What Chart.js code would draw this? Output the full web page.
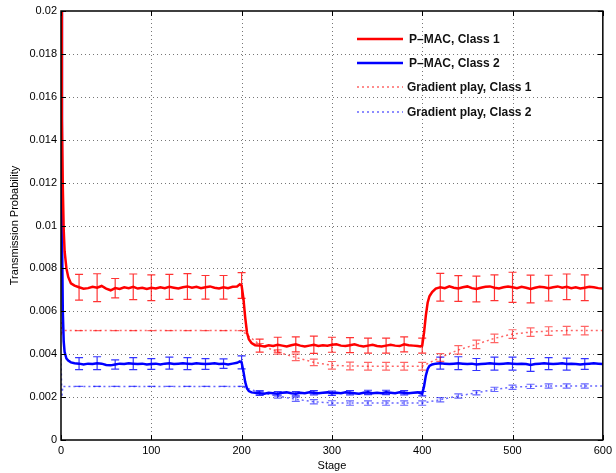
<!DOCTYPE html>
<html>
<head>
<meta charset="utf-8">
<script src="https://cdn.jsdelivr.net/npm/chart.js@4.4.1/dist/chart.umd.min.js"></script>
<style>
  html, body { margin: 0; padding: 0; background: #fff; }
  canvas { display: block; }
</style>
</head>
<body>
<canvas id="canvas" width="616" height="473"></canvas>
<script>
// stages for the P-MAC curves
var pmacStages = [0, 1, 2, 3, 4, 6, 8, 11, 15,
	20, 25, 30, 35, 40, 45, 50, 55, 60, 65, 70, 75, 80, 85, 90, 95, 100, 105, 110, 115, 120, 125, 130, 135, 140, 145, 150, 155, 160, 165, 170, 175, 180, 185, 190, 195,
	198, 200, 202, 204, 206, 208, 211, 215,
	220, 225, 230, 235, 240, 245, 250, 255, 260, 265, 270, 275, 280, 285, 290, 295, 300, 305, 310, 315, 320, 325, 330, 335, 340, 345, 350, 355, 360, 365, 370, 375, 380, 385, 390, 395,
	398, 400, 402, 404, 406, 408, 411, 415,
	420, 425, 430, 435, 440, 445, 450, 455, 460, 465, 470, 475, 480, 485, 490, 495, 500, 505, 510, 515, 520, 525, 530, 535, 540, 545, 550, 555, 560, 565, 570, 575, 580, 585, 590, 595, 600];

var pmacClass1 = [0.0200, 0.0150, 0.0118, 0.0098, 0.0088, 0.0080, 0.0076, 0.0073, 0.0072,
	0.00712, 0.00705, 0.00708, 0.00714, 0.00710, 0.00718, 0.00706, 0.00698, 0.00708, 0.00704, 0.00712, 0.00708, 0.00714, 0.00706, 0.00710, 0.00704, 0.00710, 0.00706, 0.00712, 0.00708, 0.00714, 0.00710, 0.00706, 0.00712, 0.00716, 0.00710, 0.00714, 0.00708, 0.00712, 0.00716, 0.00710, 0.00706, 0.00712, 0.00708, 0.00714, 0.00716,
	0.00726, 0.00720, 0.0066, 0.0057, 0.0050, 0.0047, 0.00452, 0.00442,
	0.00440, 0.00436, 0.00442, 0.00438, 0.00444, 0.00440, 0.00436, 0.00442, 0.00446, 0.00440, 0.00436, 0.00440, 0.00444, 0.00438, 0.00442, 0.00440, 0.00444, 0.00446, 0.00440, 0.00438, 0.00442, 0.00446, 0.00440, 0.00436, 0.00440, 0.00444, 0.00438, 0.00436, 0.00440, 0.00444, 0.00440, 0.00438, 0.00446, 0.00442, 0.00440, 0.00438,
	0.00436, 0.00440, 0.0050, 0.0058, 0.0064, 0.0067, 0.00690, 0.00706,
	0.00712, 0.00708, 0.00716, 0.00710, 0.00706, 0.00712, 0.00716, 0.00708, 0.00704, 0.00710, 0.00714, 0.00716, 0.00710, 0.00706, 0.00712, 0.00716, 0.00712, 0.00708, 0.00714, 0.00710, 0.00704, 0.00710, 0.00714, 0.00712, 0.00708, 0.00712, 0.00716, 0.00710, 0.00714, 0.00708, 0.00712, 0.00706, 0.00710, 0.00714, 0.00712, 0.00708, 0.00706];

var pmacClass2 = [0.0200, 0.0100, 0.0060, 0.0046, 0.0041, 0.0038, 0.0037, 0.00362, 0.00358,
	0.00356, 0.00352, 0.00356, 0.00354, 0.00358, 0.00356, 0.00350, 0.00348, 0.00352, 0.00356, 0.00354, 0.00358, 0.00356, 0.00354, 0.00356, 0.00352, 0.00354, 0.00356, 0.00352, 0.00356, 0.00358, 0.00354, 0.00356, 0.00358, 0.00356, 0.00354, 0.00358, 0.00356, 0.00354, 0.00356, 0.00358, 0.00354, 0.00356, 0.00352, 0.00356, 0.00360,
	0.00366, 0.00362, 0.0032, 0.0027, 0.00240, 0.00228, 0.00222, 0.00220,
	0.00218, 0.00216, 0.00220, 0.00218, 0.00216, 0.00220, 0.00222, 0.00218, 0.00216, 0.00220, 0.00218, 0.00222, 0.00220, 0.00218, 0.00220, 0.00222, 0.00218, 0.00220, 0.00218, 0.00222, 0.00220, 0.00218, 0.00216, 0.00220, 0.00222, 0.00218, 0.00220, 0.00218, 0.00222, 0.00220, 0.00218, 0.00222, 0.00220, 0.00218, 0.00220, 0.00222,
	0.00218, 0.00216, 0.0025, 0.0030, 0.0033, 0.00345, 0.00352, 0.00356,
	0.00358, 0.00356, 0.00354, 0.00356, 0.00358, 0.00356, 0.00354, 0.00356, 0.00352, 0.00354, 0.00356, 0.00358, 0.00356, 0.00354, 0.00356, 0.00358, 0.00356, 0.00354, 0.00356, 0.00354, 0.00350, 0.00354, 0.00356, 0.00358, 0.00356, 0.00354, 0.00356, 0.00358, 0.00354, 0.00356, 0.00354, 0.00352, 0.00354, 0.00356, 0.00358, 0.00356, 0.00354];

// stages for the gradient play curves
var gpStages = [0, 1, 2, 20, 40, 60, 80, 100, 120, 140, 160, 180, 200, 220, 240, 260, 280, 300, 320, 340, 360, 380, 400, 420, 440, 460, 480, 500, 520, 540, 560, 580, 600];
var gpClass1 = [0.0055, 0.0050, 0.0051, 0.0051, 0.0051, 0.0051, 0.0051, 0.0051, 0.0051, 0.0051, 0.0051, 0.0051, 0.0051,
	0.00445, 0.0041, 0.00385, 0.00362, 0.00348, 0.00345, 0.00344, 0.00344, 0.00344, 0.00344,
	0.00385, 0.0042, 0.00446, 0.00474, 0.00494, 0.00503, 0.00508, 0.0051, 0.0051, 0.0051];
var gpClass2 = [0.0038, 0.0020, 0.0025, 0.0025, 0.0025, 0.0025, 0.0025, 0.0025, 0.0025, 0.0025, 0.0025, 0.0025, 0.0025,
	0.00222, 0.00205, 0.0019, 0.00178, 0.00173, 0.00172, 0.00172, 0.00172, 0.00172, 0.00172,
	0.00188, 0.00205, 0.0022, 0.00236, 0.00246, 0.0025, 0.00252, 0.00252, 0.00252, 0.00252];

// error bars (half widths) at stages 20..580
var errStages = [20, 40, 60, 80, 100, 120, 140, 160, 180, 200, 220, 240, 260, 280, 300, 320, 340, 360, 380, 400, 420, 440, 460, 480, 500, 520, 540, 560, 580];
var pmacClass1Err = [0.0006, 0.00065, 0.00045, 0.0006, 0.0006, 0.00058, 0.0006, 0.00055, 0.00055, 0.0006,
	0.0003, 0.00035, 0.00035, 0.0004, 0.00035, 0.00035, 0.00035, 0.00035, 0.00035, 0.00035,
	0.00065, 0.0006, 0.0006, 0.0006, 0.0007, 0.00065, 0.0006, 0.0006, 0.0006];
var pmacClass2Err = [0.00028, 0.0003, 0.00022, 0.00028, 0.00025, 0.00028, 0.00028, 0.00025, 0.00022, 0.0003,
	0.0001, 0.0001, 0.0001, 0.0001, 0.0001, 0.0001, 0.0001, 0.0001, 0.0001, 0.0001,
	0.00028, 0.0003, 0.00028, 0.0003, 0.0003, 0.0003, 0.00028, 0.00028, 0.00025];
var gpClass1Err = [0, 0, 0, 0, 0, 0, 0, 0, 0, 0,
	0.00005, 0.0001, 0.00015, 0.00015, 0.00018, 0.00018, 0.00018, 0.00018, 0.00018, 0.00018,
	0.00018, 0.0002, 0.0002, 0.0002, 0.0002, 0.0002, 0.0002, 0.0002, 0.0002];
var gpClass2Err = [0, 0, 0, 0, 0, 0, 0, 0, 0, 0,
	0.00008, 0.0001, 0.0001, 0.0001, 0.0001, 0.0001, 0.0001, 0.0001, 0.0001, 0.0001,
	0.0001, 0.0001, 0.0001, 0.0001, 0.0001, 0.0001, 0.0001, 0.0001, 0.0001];

var seriesLabels = ['P\u2013MAC, Class 1', 'P\u2013MAC, Class 2', 'Gradient play, Class 1', 'Gradient play, Class 2'];

function pts(xs, ys) {
	return xs.map(function(s, i) { return {x: s, y: ys[i]}; });
}

var FONT = 'Liberation Sans, Arial, Helvetica, sans-serif';

var matlabLook = {
	id: 'matlabLook',
	beforeDatasetsDraw: function(chart) {
		var ctx = chart.ctx, a = chart.chartArea, x = chart.scales.x, y = chart.scales.y;
		ctx.save();
		ctx.strokeStyle = '#777';
		ctx.lineWidth = 1;
		ctx.setLineDash([1, 3]);
		x.ticks.forEach(function(t) {
			if (t.value <= x.min || t.value >= x.max) return;
			var px = Math.round(x.getPixelForValue(t.value)) + 0.5;
			ctx.beginPath(); ctx.moveTo(px, a.top); ctx.lineTo(px, a.bottom); ctx.stroke();
		});
		y.ticks.forEach(function(t) {
			if (t.value <= y.min || t.value >= y.max) return;
			var py = Math.round(y.getPixelForValue(t.value)) + 0.5;
			ctx.beginPath(); ctx.moveTo(a.left, py); ctx.lineTo(a.right, py); ctx.stroke();
		});
		ctx.restore();
	},
	afterDatasetsDraw: function(chart) {
		var ctx = chart.ctx, a = chart.chartArea, x = chart.scales.x, y = chart.scales.y;
		ctx.save();
		ctx.beginPath(); ctx.rect(a.left, a.top, a.width, a.height); ctx.clip();
		chart.data.datasets.forEach(function(ds) {
			if (!ds.errors) return;
			ctx.strokeStyle = ds.errColor;
			ctx.lineWidth = 1.2;
			errStages.forEach(function(s, i) {
				var p = ds.data.find(function(d) { return d.x === s; });
				if (!p) return;
				var px = x.getPixelForValue(s);
				var top = y.getPixelForValue(p.y + ds.errors[i]);
				var bot = y.getPixelForValue(p.y - ds.errors[i]);
				ctx.beginPath();
				ctx.moveTo(px, top); ctx.lineTo(px, bot);
				ctx.moveTo(px - 4, top); ctx.lineTo(px + 4, top);
				ctx.moveTo(px - 4, bot); ctx.lineTo(px + 4, bot);
				ctx.stroke();
			});
		});
		ctx.restore();
	},
	afterDraw: function(chart) {
		var ctx = chart.ctx, a = chart.chartArea, x = chart.scales.x, y = chart.scales.y;
		ctx.save();
		// inward tick marks
		ctx.strokeStyle = '#000';
		ctx.lineWidth = 1;
		x.ticks.forEach(function(t) {
			var px = Math.round(x.getPixelForValue(t.value)) + 0.5;
			ctx.beginPath();
			ctx.moveTo(px, a.bottom); ctx.lineTo(px, a.bottom - 5);
			ctx.moveTo(px, a.top); ctx.lineTo(px, a.top + 5);
			ctx.stroke();
		});
		y.ticks.forEach(function(t) {
			var py = Math.round(y.getPixelForValue(t.value)) + 0.5;
			ctx.beginPath();
			ctx.moveTo(a.left, py); ctx.lineTo(a.left + 5, py);
			ctx.moveTo(a.right, py); ctx.lineTo(a.right - 5, py);
			ctx.stroke();
		});
		// box
		ctx.lineWidth = 1.5;
		ctx.strokeRect(a.left, a.top, a.width, a.height);

		// legend
		var rows = [39, 63, 87, 112];
		ctx.font = 'bold 12px ' + FONT;
		ctx.textBaseline = 'middle';
		ctx.textAlign = 'left';
		chart.data.datasets.forEach(function(ds, i) {
			ctx.strokeStyle = ds.legendColor;
			ctx.lineWidth = ds.borderWidth;
			ctx.setLineDash(ds.borderDash || []);
			ctx.beginPath();
			ctx.moveTo(357, rows[i]); ctx.lineTo(403, rows[i]);
			ctx.stroke();
			ctx.setLineDash([]);
			ctx.fillStyle = '#111';
			ctx.fillText(ds.label, i < 2 ? 409 : 407, rows[i] + 1);
		});
		ctx.restore();
	}
};

window.onload = function() {
	var ctx = document.getElementById('canvas').getContext('2d');
	window.myChart = new Chart(ctx, {
		type: 'line',
		data: {
			datasets: [{
				label: seriesLabels[0],
				data: pts(pmacStages, pmacClass1),
				borderColor: '#ff0000',
				legendColor: '#ff0000',
				borderWidth: 2.5,
				errors: pmacClass1Err,
				errColor: 'rgba(255,0,0,0.8)'
			}, {
				label: seriesLabels[1],
				data: pts(pmacStages, pmacClass2),
				borderColor: '#0000ff',
				legendColor: '#0000ff',
				borderWidth: 2.5,
				errors: pmacClass2Err,
				errColor: 'rgba(0,0,255,0.8)'
			}, {
				label: seriesLabels[2],
				data: pts(gpStages, gpClass1),
				borderColor: 'rgba(255,0,0,0.6)',
				legendColor: 'rgba(255,0,0,0.6)',
				borderWidth: 1.5,
				borderDash: [2, 3],
				errors: gpClass1Err,
				errColor: 'rgba(255,0,0,0.6)'
			}, {
				label: seriesLabels[3],
				data: pts(gpStages, gpClass2),
				borderColor: 'rgba(0,0,255,0.6)',
				legendColor: 'rgba(0,0,255,0.6)',
				borderWidth: 1.5,
				borderDash: [2, 3],
				errors: gpClass2Err,
				errColor: 'rgba(0,0,255,0.6)'
			}]
		},
		options: {
			responsive: false,
			animation: false,
			devicePixelRatio: 1,
			layout: { padding: { top: 11, right: 11, left: 0, bottom: 0 } },
			elements: { point: { radius: 0 }, line: { tension: 0 } },
			plugins: {
				legend: { display: false },
				tooltip: { enabled: false }
			},
			scales: {
				x: {
					type: 'linear',
					min: 0,
					max: 600,
					ticks: { stepSize: 100, color: '#000', padding: 4, font: { family: FONT, size: 11 } },
					grid: { display: false, drawTicks: false },
					border: { display: false },
					title: { display: true, text: 'Stage', color: '#000', padding: { top: 0, bottom: 0 }, font: { family: FONT, size: 11 } },
					afterFit: function(s) { s.height = 33; }
				},
				y: {
					min: 0,
					max: 0.02,
					ticks: {
						stepSize: 0.002,
						color: '#000',
						padding: 4,
						font: { family: FONT, size: 11 },
						callback: function(v) { return String(Number(v.toFixed(3))); }
					},
					grid: { display: false, drawTicks: false },
					border: { display: false },
					title: { display: true, text: 'Transmission Probability', color: '#000', padding: { top: 8, bottom: 0 }, font: { family: FONT, size: 11 } },
					afterFit: function(s) { s.width = 61; }
				}
			}
		},
		plugins: [matlabLook]
	});
};
</script>
</body>
</html>
